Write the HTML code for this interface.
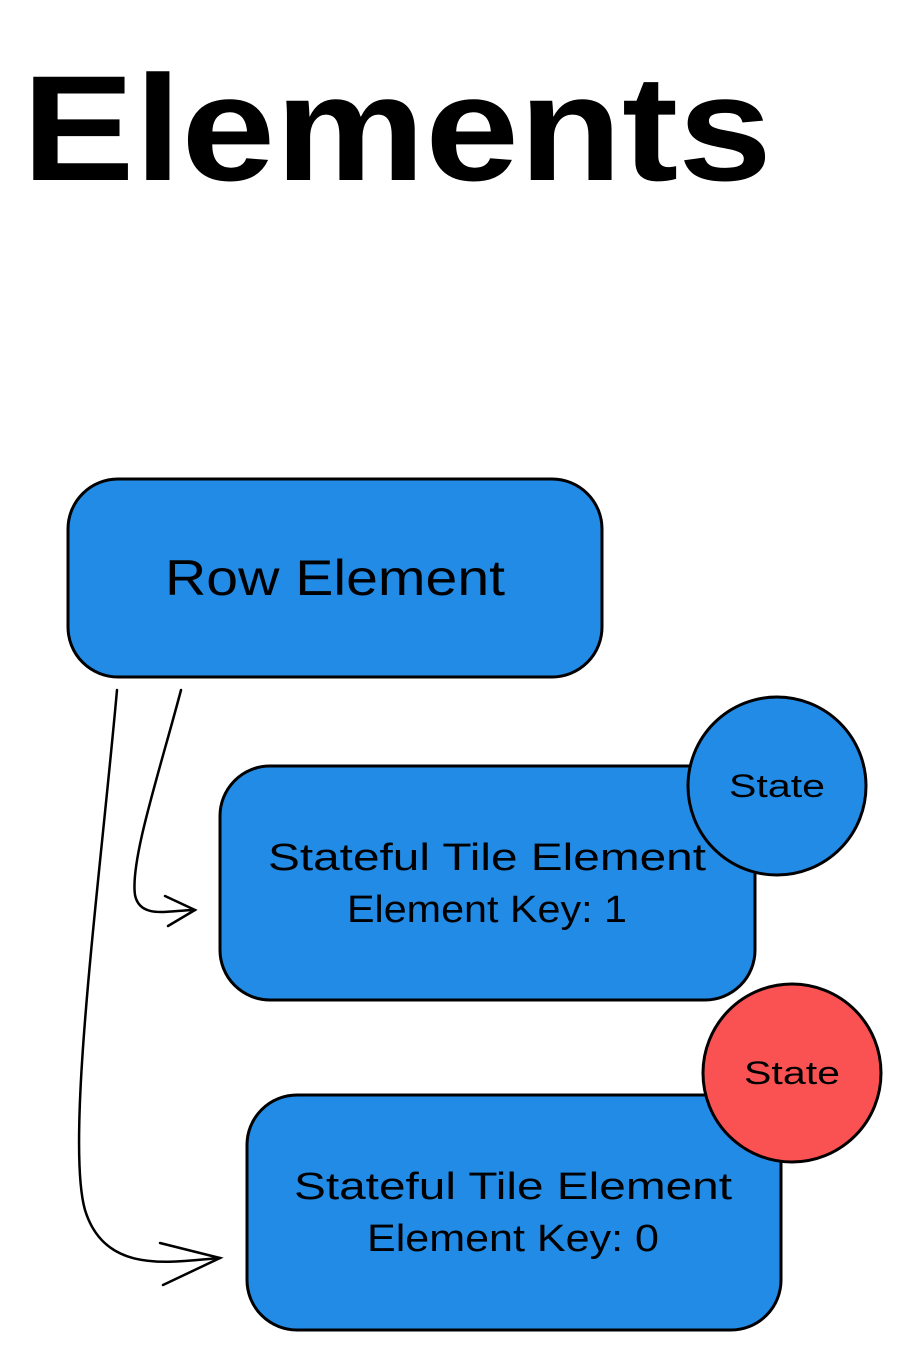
<!DOCTYPE html>
<html><head><meta charset="utf-8"><style>
html,body{margin:0;padding:0;background:#fff;}
svg{display:block}
text{font-family:"Liberation Sans",sans-serif;fill:#000;}
</style></head><body>
<svg width="901" height="1350" viewBox="0 0 901 1350" xmlns="http://www.w3.org/2000/svg">
<rect width="901" height="1350" fill="#fff"/>
<text x="22" y="180" font-size="150" font-weight="bold" textLength="750" lengthAdjust="spacingAndGlyphs">Elements</text>

<rect x="68" y="479" width="534" height="198" rx="50" fill="#228be6" stroke="#000" stroke-width="3"/>
<text x="335" y="595" font-size="50" text-anchor="middle" textLength="340" lengthAdjust="spacingAndGlyphs">Row Element</text>

<rect x="220" y="766" width="535" height="234" rx="50" fill="#228be6" stroke="#000" stroke-width="3"/>
<text x="487" y="870" font-size="38" text-anchor="middle" textLength="438" lengthAdjust="spacingAndGlyphs">Stateful Tile Element</text>
<text x="487" y="922" font-size="38" text-anchor="middle" textLength="280" lengthAdjust="spacingAndGlyphs">Element Key: 1</text>
<circle cx="777" cy="786" r="89" fill="#228be6" stroke="#000" stroke-width="3"/>
<text x="777" y="797" font-size="32" text-anchor="middle" textLength="96" lengthAdjust="spacingAndGlyphs">State</text>

<rect x="247" y="1095" width="534" height="235" rx="50" fill="#228be6" stroke="#000" stroke-width="3"/>
<text x="513" y="1199" font-size="38" text-anchor="middle" textLength="438" lengthAdjust="spacingAndGlyphs">Stateful Tile Element</text>
<text x="513" y="1251" font-size="38" text-anchor="middle" textLength="292" lengthAdjust="spacingAndGlyphs">Element Key: 0</text>
<circle cx="792" cy="1073" r="89" fill="#fa5252" stroke="#000" stroke-width="3"/>
<text x="792" y="1084" font-size="32" text-anchor="middle" textLength="96" lengthAdjust="spacingAndGlyphs">State</text>

<g fill="none" stroke="#000" stroke-width="2.5" stroke-linecap="round">
<path d="M181 690 C160 770 130 860 135 895 C140 920 170 910 195 910"/>
<path d="M165 896 L195 910 L168 926"/>
<path d="M117 690 C100 880 65 1140 85 1210 C105 1275 170 1262 220 1258"/>
<path d="M160 1243 L220 1258 L163 1285"/>
</g>
</svg>
</body></html>
